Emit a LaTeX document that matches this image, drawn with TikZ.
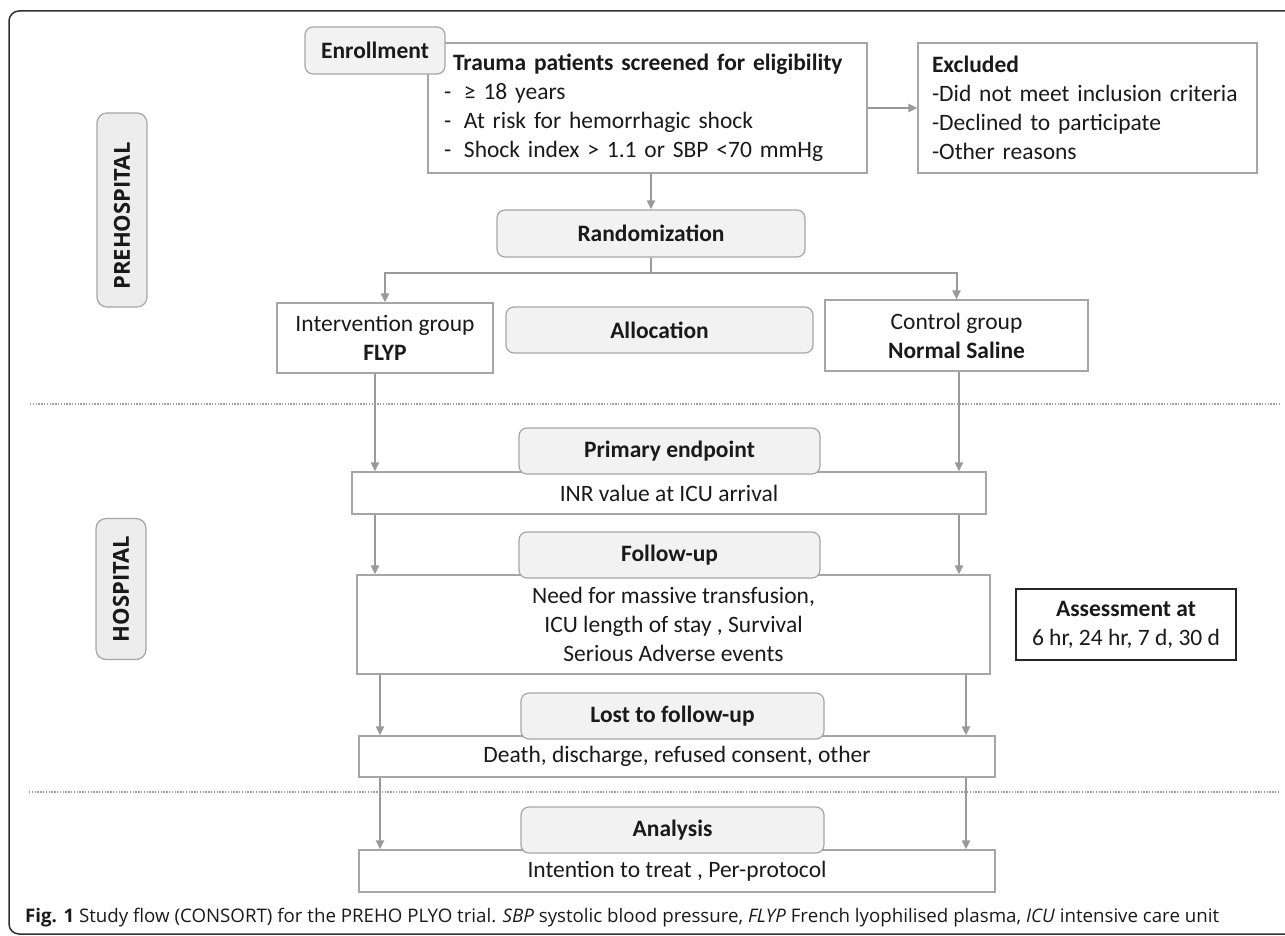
\documentclass[tikz,border=0pt]{standalone}
\usepackage{fontspec}
\setmainfont{Carlito}
\newfontfamily\osans{Open Sans}
\usetikzlibrary{arrows.meta}
\definecolor{boxgray}{HTML}{A6A6A6}
\definecolor{rfill}{HTML}{F2F2F2}
\definecolor{labfill}{HTML}{EDEDED}
\definecolor{arrgray}{HTML}{999999}
\definecolor{dotgray}{HTML}{A0A0A0}
\definecolor{txt}{HTML}{1A1A1A}
\definecolor{framecol}{HTML}{303030}
\newcommand{\mainfnt}{\fontsize{23.5}{29}\selectfont}
\newcommand{\dashitem}[1]{\makebox[20pt][l]{-}#1}
\begin{document}
\begin{tikzpicture}[x=1pt,y=-1pt,
  plain/.style={draw=boxgray, line width=1.2pt, fill=white, inner sep=0pt, align=center, font=\mainfnt, text=txt},
  rbox/.style={plain, fill=rfill, rounded corners=8pt, font=\mainfnt\bfseries},
  lab/.style={draw=boxgray, line width=1.2pt, fill=labfill, rounded corners=10pt, inner sep=0pt, font=\osans\bfseries\fontsize{22}{26}\selectfont, text=black!90},
  darkbox/.style={plain, draw=black!85, line width=1.4pt},
  arr/.style={draw=arrgray, line width=2pt, -{Triangle[length=9pt,width=8pt]}},
  plainline/.style={draw=arrgray, line width=2pt},
  sep/.style={draw=dotgray, line width=1.5pt, dash pattern=on 1.4pt off 1.4pt}
]
\useasboundingbox (0,0) rectangle (1285,936);
% outer frame
\draw[framecol, line width=1.5pt, rounded corners=10pt] (1300,11) -- (9,11) -- (9,934) -- (1300,934);

% column coordinates
\coordinate (cl1) at (375,0);
\coordinate (cr1) at (959,0);
\coordinate (cl2) at (380,0);
\coordinate (cr2) at (966,0);

% section labels
\node[lab, minimum width=50, minimum height=194] (pre) at (122,210) {\rotatebox{90}{\hspace*{-12pt}PREHOSPITAL}};
\node[lab, minimum width=50, minimum height=141] (hos) at (121,589) {\rotatebox{90}{HOSPITAL}};

% enrollment
\node[plain, inner xsep=16pt, text width=407pt, minimum height=130, align=left] (trauma) at (647.5,108)
  {\hspace*{9pt}\textbf{Trauma patients screened for eligibility}\\
   \dashitem{≥ 18 years}\\
   \dashitem{At risk for hemorrhagic shock}\\
   \dashitem{Shock index > 1.1 or SBP <70 mmHg}};
\node[rbox, minimum width=140, minimum height=47] (enr) at (375,50.5) {Enrollment};
\node[plain, inner xsep=14pt, text width=311pt, minimum height=130, align=left] (excl) at (1087.5,108)
  {\textbf{Excluded}\\-Did not meet inclusion criteria\\-Declined to participate\\-Other reasons};
\draw[arr] (trauma.east |- excl.west) -- (excl.west);

\node[rbox, minimum width=308, minimum height=47] (rand) at (651,233.5) {Randomization};
\draw[arr] (rand.north |- trauma.south) -- (rand.north);

\node[plain, minimum width=216, minimum height=70] (int) at (385,338) {Intervention group\\\textbf{FLYP}};
\node[rbox, minimum width=307, minimum height=46] (alloc) at (659.5,330) {Allocation};
\node[plain, minimum width=263, minimum height=71] (ctrl) at (956.5,335.5) {Control group\\\textbf{Normal Saline}};
\draw[plainline] (rand.south) -- ++(0,15) coordinate (br);
\draw[arr] (br) -| (int.north);
\draw[arr] (br) -| (ctrl.north);

% separator 1
\draw[sep] (30,404) -- (1279,404);

% primary endpoint
\node[plain, minimum width=634, minimum height=42] (inr) at (669,493) {INR value at ICU arrival};
\node[rbox, minimum width=301, minimum height=46] (prim) at (669.5,451) {Primary endpoint};
\draw[arr] (int.south -| cl1) -- (inr.north -| cl1);
\draw[arr] (ctrl.south -| cr1) -- (inr.north -| cr1);

% follow-up
\node[plain, minimum width=633, minimum height=99] (need) at (673.5,624.5)
  {Need for massive transfusion,\\ICU length of stay , Survival\\Serious Adverse events};
\node[rbox, minimum width=301, minimum height=46] (fol) at (669.5,555) {Follow-up};
\draw[arr] (inr.south -| cl1) -- (need.north -| cl1);
\draw[arr] (inr.south -| cr1) -- (need.north -| cr1);

\node[darkbox, minimum width=220, minimum height=71] (assess) at (1126,624.5)
  {\textbf{Assessment at}\\6 hr, 24 hr, 7 d, 30 d};

% lost to follow-up
\node[plain, minimum width=636, minimum height=41] (death) at (677,756.5) {Death, discharge, refused consent, other};
\node[rbox, minimum width=303, minimum height=46] (lost) at (672.5,716) {Lost to follow-up};
\draw[arr] (need.south -| cl2) -- (death.north -| cl2);
\draw[arr] (need.south -| cr2) -- (death.north -| cr2);

% separator 2
\draw[sep] (29,792) -- (1279,792);

% analysis
\node[plain, minimum width=636, minimum height=42] (itt) at (677,871) {Intention to treat , Per-protocol};
\node[rbox, minimum width=303, minimum height=46] (ana) at (672.5,830) {Analysis};
\draw[arr] (death.south -| cl2) -- (itt.north -| cl2);
\draw[arr] (death.south -| cr2) -- (itt.north -| cr2);

% caption
\node[anchor=base west, inner sep=0pt, font=\osans\fontsize{18.7}{22}\selectfont, text=txt] (cap) at (25,922)
  {\textbf{Fig. 1} Study flow (CONSORT) for the PREHO PLYO trial. \textit{SBP} systolic blood pressure, \textit{FLYP} French lyophilised plasma, \textit{ICU} intensive care unit};
\end{tikzpicture}
\end{document}
